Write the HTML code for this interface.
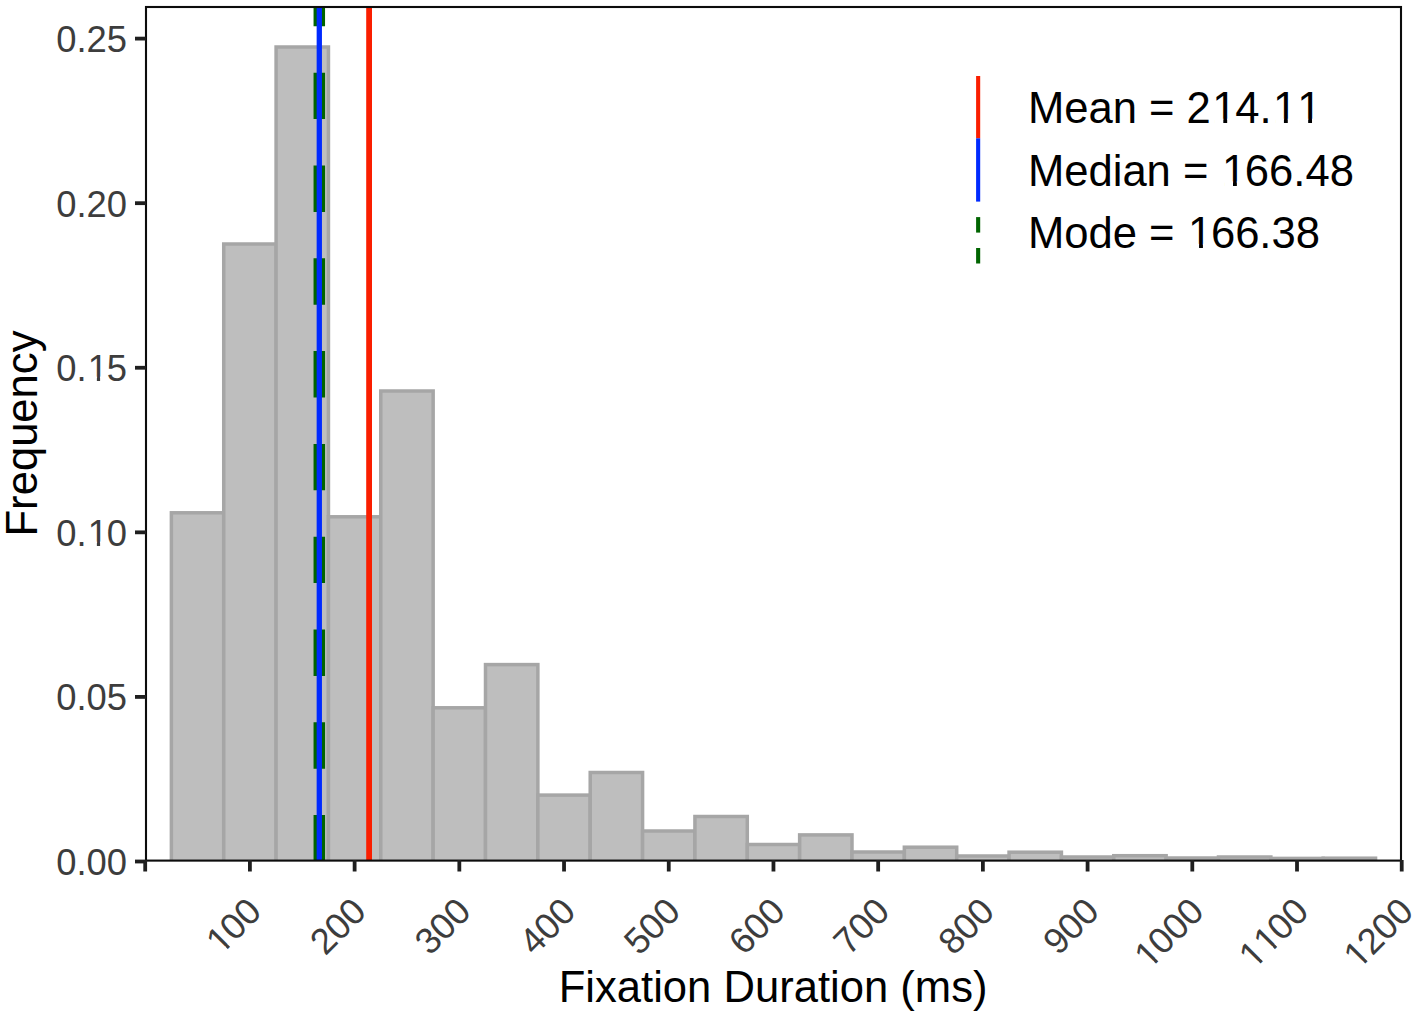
<!DOCTYPE html>
<html><head><meta charset="utf-8"><title>Fixation Duration Histogram</title>
<style>html,body{margin:0;padding:0;background:#fff;}body{width:1417px;height:1017px;overflow:hidden;font-family:"Liberation Sans",sans-serif;}svg{display:block;}text{font-kerning:none;font-variant-ligatures:none;white-space:pre;}</style>
</head><body>
<svg width="1417" height="1017" viewBox="0 0 1417 1017" font-family="Liberation Sans, sans-serif"><defs><clipPath id="pc"><rect x="146" y="7" width="1255" height="853.6"/></clipPath></defs>
<g clip-path="url(#pc)" fill="#bebebe" stroke="#a6a6a6" stroke-width="3.5"><rect x="171.38" y="512.80" width="52.35" height="351.70"/><rect x="223.73" y="244.00" width="52.35" height="620.50"/><rect x="276.09" y="47.00" width="52.36" height="817.50"/><rect x="328.44" y="516.80" width="52.35" height="347.70"/><rect x="380.80" y="391.00" width="52.36" height="473.50"/><rect x="433.15" y="707.80" width="52.35" height="156.70"/><rect x="485.51" y="664.60" width="52.36" height="199.90"/><rect x="537.86" y="795.10" width="52.36" height="69.40"/><rect x="590.22" y="772.50" width="52.36" height="92.00"/><rect x="642.57" y="831.00" width="52.36" height="33.50"/><rect x="694.93" y="816.50" width="52.36" height="48.00"/><rect x="747.28" y="844.50" width="52.36" height="20.00"/><rect x="799.64" y="834.90" width="52.35" height="29.60"/><rect x="851.99" y="852.00" width="52.36" height="12.50"/><rect x="904.35" y="847.20" width="52.36" height="17.30"/><rect x="956.70" y="856.00" width="52.36" height="8.50"/><rect x="1009.06" y="852.20" width="52.36" height="12.30"/><rect x="1061.41" y="857.00" width="52.36" height="7.50"/><rect x="1113.77" y="855.70" width="52.36" height="8.80"/><rect x="1166.12" y="858.00" width="52.36" height="6.50"/><rect x="1218.48" y="857.00" width="52.36" height="7.50"/><rect x="1270.83" y="858.40" width="52.36" height="6.10"/><rect x="1323.19" y="858.20" width="52.36" height="6.30"/></g>
<g clip-path="url(#pc)"><line x1="319.30" y1="861.50" x2="319.30" y2="0" stroke="#006400" stroke-width="11.5" stroke-dasharray="46.4 46.4"/><line x1="319.30" y1="861.50" x2="319.30" y2="0" stroke="#002aff" stroke-width="5.3"/><line x1="369.1" y1="861.50" x2="369.1" y2="0" stroke="#fa1e00" stroke-width="5.8"/></g>
<rect x="146" y="7" width="1255" height="853.6" fill="none" stroke="#0c0c0c" stroke-width="2.1"/>
<g stroke="#1f1f1f" stroke-width="3.8"><line x1="135" y1="861.50" x2="146" y2="861.50"/><line x1="135" y1="696.92" x2="146" y2="696.92"/><line x1="135" y1="532.34" x2="146" y2="532.34"/><line x1="135" y1="367.76" x2="146" y2="367.76"/><line x1="135" y1="203.18" x2="146" y2="203.18"/><line x1="135" y1="38.60" x2="146" y2="38.60"/></g>
<g><text x="56.16" y="874.50" font-size="36.40" fill="#3d3d3d">0.00</text></g>
<g><text x="56.16" y="709.50" font-size="36.40" fill="#3d3d3d">0.05</text></g>
<g><text x="56.16" y="545.50" font-size="36.40" fill="#3d3d3d">0.<tspan dx="1.21">1</tspan><tspan dx="-1.21">0</tspan></text><g fill="#fff"><rect x="89.49" y="541.58" width="7.38" height="5.12"/><rect x="100.09" y="541.58" width="7.10" height="5.12"/></g></g>
<g><text x="56.16" y="380.50" font-size="36.40" fill="#3d3d3d">0.<tspan dx="1.21">1</tspan><tspan dx="-1.21">5</tspan></text><g fill="#fff"><rect x="89.49" y="376.58" width="7.38" height="5.12"/><rect x="100.09" y="376.58" width="7.10" height="5.12"/></g></g>
<g><text x="56.16" y="216.50" font-size="36.40" fill="#3d3d3d">0.20</text></g>
<g><text x="56.16" y="51.50" font-size="36.40" fill="#3d3d3d">0.25</text></g>
<g stroke="#1f1f1f" stroke-width="3.8"><line x1="145.20" y1="860" x2="145.20" y2="871.5"/><line x1="249.91" y1="860" x2="249.91" y2="871.5"/><line x1="354.62" y1="860" x2="354.62" y2="871.5"/><line x1="459.33" y1="860" x2="459.33" y2="871.5"/><line x1="564.04" y1="860" x2="564.04" y2="871.5"/><line x1="668.75" y1="860" x2="668.75" y2="871.5"/><line x1="773.46" y1="860" x2="773.46" y2="871.5"/><line x1="878.17" y1="860" x2="878.17" y2="871.5"/><line x1="982.88" y1="860" x2="982.88" y2="871.5"/><line x1="1087.59" y1="860" x2="1087.59" y2="871.5"/><line x1="1192.30" y1="860" x2="1192.30" y2="871.5"/><line x1="1297.01" y1="860" x2="1297.01" y2="871.5"/><line x1="1401.72" y1="860" x2="1401.72" y2="871.5"/></g>
<g transform="translate(263.41 913.50) rotate(-45) translate(-263.41 -913.50)"><text x="202.68" y="913.50" font-size="36.40" fill="#3d3d3d"><tspan dx="1.21">1</tspan><tspan dx="-1.21">0</tspan>0</text><g fill="#fff"><rect x="205.66" y="909.58" width="7.38" height="5.12"/><rect x="216.26" y="909.58" width="7.10" height="5.12"/></g></g>
<g transform="translate(368.12 913.50) rotate(-45) translate(-368.12 -913.50)"><text x="307.39" y="913.50" font-size="36.40" fill="#3d3d3d">200</text></g>
<g transform="translate(472.83 913.50) rotate(-45) translate(-472.83 -913.50)"><text x="412.10" y="913.50" font-size="36.40" fill="#3d3d3d">300</text></g>
<g transform="translate(577.54 913.50) rotate(-45) translate(-577.54 -913.50)"><text x="516.81" y="913.50" font-size="36.40" fill="#3d3d3d">400</text></g>
<g transform="translate(682.25 913.50) rotate(-45) translate(-682.25 -913.50)"><text x="621.52" y="913.50" font-size="36.40" fill="#3d3d3d">500</text></g>
<g transform="translate(786.96 913.50) rotate(-45) translate(-786.96 -913.50)"><text x="726.23" y="913.50" font-size="36.40" fill="#3d3d3d">600</text></g>
<g transform="translate(891.67 913.50) rotate(-45) translate(-891.67 -913.50)"><text x="830.94" y="913.50" font-size="36.40" fill="#3d3d3d">700</text></g>
<g transform="translate(996.38 913.50) rotate(-45) translate(-996.38 -913.50)"><text x="935.65" y="913.50" font-size="36.40" fill="#3d3d3d">800</text></g>
<g transform="translate(1101.09 913.50) rotate(-45) translate(-1101.09 -913.50)"><text x="1040.36" y="913.50" font-size="36.40" fill="#3d3d3d">900</text></g>
<g transform="translate(1205.80 913.50) rotate(-45) translate(-1205.80 -913.50)"><text x="1124.82" y="913.50" font-size="36.40" fill="#3d3d3d"><tspan dx="1.21">1</tspan><tspan dx="-1.21">0</tspan>00</text><g fill="#fff"><rect x="1127.81" y="909.58" width="7.38" height="5.12"/><rect x="1138.40" y="909.58" width="7.10" height="5.12"/></g></g>
<g transform="translate(1310.51 913.50) rotate(-45) translate(-1310.51 -913.50)"><text x="1229.53" y="913.50" font-size="36.40" fill="#3d3d3d"><tspan dx="1.21">1</tspan><tspan dx="0.00">1</tspan><tspan dx="-1.21">0</tspan>0</text><g fill="#fff"><rect x="1232.52" y="909.58" width="7.38" height="5.12"/><rect x="1243.11" y="909.58" width="7.10" height="5.12"/><rect x="1252.76" y="909.58" width="7.38" height="5.12"/><rect x="1263.36" y="909.58" width="7.10" height="5.12"/></g></g>
<g transform="translate(1415.22 913.50) rotate(-45) translate(-1415.22 -913.50)"><text x="1334.24" y="913.50" font-size="36.40" fill="#3d3d3d"><tspan dx="1.21">1</tspan><tspan dx="-1.21">2</tspan>00</text><g fill="#fff"><rect x="1337.23" y="909.58" width="7.38" height="5.12"/><rect x="1347.82" y="909.58" width="7.10" height="5.12"/></g></g>
<g><text x="558.70" y="1001.50" font-size="43.60" fill="#000">Fixation Duration (ms)</text></g>
<g transform="translate(36.90 536.50) rotate(-90) translate(-36.90 -536.50)"><text x="36.90" y="536.50" font-size="43.60" fill="#000">Frequency</text></g>
<rect x="976.1" y="76" width="4.1" height="62.3" fill="#fa1e00"/><rect x="976.1" y="138.3" width="4.1" height="63.3" fill="#002aff"/><rect x="976.1" y="217.1" width="4.1" height="15.5" fill="#006400"/><rect x="976.1" y="248" width="4.1" height="15.5" fill="#006400"/>
<g><text x="1027.90" y="123.20" font-size="43.60" fill="#000">Mean = 2<tspan dx="1.45">1</tspan><tspan dx="-1.45">4</tspan>.<tspan dx="1.45">1</tspan><tspan dx="0.00">1</tspan></text><g fill="#fff"><rect x="1214.67" y="118.74" width="8.64" height="5.66"/><rect x="1227.17" y="118.74" width="8.30" height="5.66"/><rect x="1275.28" y="118.74" width="8.64" height="5.66"/><rect x="1287.78" y="118.74" width="8.30" height="5.66"/><rect x="1299.53" y="118.74" width="8.64" height="5.66"/><rect x="1312.02" y="118.74" width="8.30" height="5.66"/></g></g>
<g><text x="1027.90" y="185.80" font-size="43.60" fill="#000">Median = <tspan dx="1.45">1</tspan><tspan dx="-1.45">6</tspan>6.48</text><g fill="#fff"><rect x="1224.36" y="181.34" width="8.64" height="5.66"/><rect x="1236.85" y="181.34" width="8.30" height="5.66"/></g></g>
<g><text x="1027.90" y="248.30" font-size="43.60" fill="#000">Mode = <tspan dx="1.45">1</tspan><tspan dx="-1.45">6</tspan>6.38</text><g fill="#fff"><rect x="1190.42" y="243.84" width="8.64" height="5.66"/><rect x="1202.92" y="243.84" width="8.30" height="5.66"/></g></g></svg>
</body></html>
